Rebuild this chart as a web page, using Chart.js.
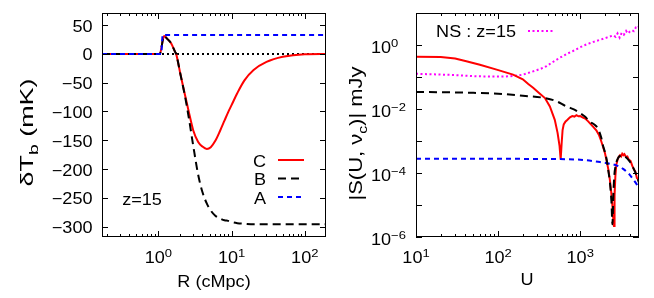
<!DOCTYPE html>
<html>
<head>
  <title>dTb profile and visibility</title>
  <script src="https://cdn.jsdelivr.net/npm/chart.js"></script>
  <style>
    body { margin: 0; background: #fff; }
    #wrap { position: relative; width: 654px; height: 298px; }
    #left { position: absolute; left: 0; top: 0; }
    #right { position: absolute; left: 330px; top: 0; }
  </style>
</head>
<body>
  <div id="wrap">
    <canvas id="left" width="330" height="298" style="width:330px;height:298px"></canvas>
    <canvas id="right" width="324" height="298" style="width:324px;height:298px"></canvas>
  </div>

  <script>
    // left panel: brightness temperature profile vs R (cMpc)
    const rGrid = [0.17, 0.5, 1.0, 1.05, 1.1, 1.15, 1.2, 1.3, 1.4, 1.5, 1.7, 1.75, 2.0, 2.3, 2.6, 3.0, 3.5, 4.0, 4.6, 5.2, 6.0, 7.0, 8.0, 9.0, 10, 12, 15, 20, 30, 50, 100, 195];
    const tbB   = [0, 0, 0, 0, 10, 24, 31, 27, 23, 18, 3, 0, -35, -72, -110, -160, -210, -240, -260, -272, -281, -286, -289, -290, -292, -294, -295, -296, -296, -296, -296, -296];
    const tbC   = [0, 0, 0, 0, 10, 24, 31, 27, 23, 18, 3, 0, -35, -70, -100, -133, -153, -161, -165, -162, -151, -133, -116, -101, -89, -68, -46, -28, -14, -5, -0.5, 0];
    const rA    = [0.17, 1.1, 1.14, 195];
    const tbA   = [0, 0, 33, 33];
    const rZero = [0.17, 195];
    const tbZero = [0, 0];
    const leftYTicks = [50, 0, -50, -100, -150, -200, -250, -300];

    // right panel: |S(U, nu_c)| in mJy vs U
    const uC = [10, 20, 30, 41, 60, 96, 152, 200, 233, 267, 310, 372, 427, 490, 530, 560, 578, 595, 610, 630, 660, 700, 750, 800, 850, 900, 950, 1000, 1080, 1150, 1250, 1350, 1450, 1580, 1700, 1800, 1900, 2000, 2100, 2200, 2300, 2400, 2480, 2540, 2580, 2620, 2680, 2750, 2850, 2950, 3050, 3150, 3250, 3350, 3450, 3600, 3750, 3900, 4100, 4300, 4500, 4700, 4900, 5200];
    const sC = [0.43, 0.42, 0.38, 0.31, 0.24, 0.17, 0.119, 0.085, 0.06, 0.046, 0.033, 0.022, 0.012, 0.0046, 0.0018, 7e-4, 2.6e-4, 9e-4, 0.0022, 0.0033, 0.0040, 0.0046, 0.0055, 0.0060, 0.0058, 0.0064, 0.0059, 0.0060, 0.0054, 0.0050, 0.0041, 0.0033, 0.0027, 0.0021, 0.0015, 0.0010, 6.5e-4, 4.2e-4, 2.4e-4, 1.3e-4, 6e-5, 2.2e-5, 8e-6, 3e-6, 2.2e-6, 2e-5, 8e-5, 1.8e-4, 2.6e-4, 3.2e-4, 3.6e-4, 3.3e-4, 4.0e-4, 3.6e-4, 3.9e-4, 3.2e-4, 3.3e-4, 2.6e-4, 2.4e-4, 1.7e-4, 1.3e-4, 1.1e-4, 7e-5, 6e-5];
    const uB = [10, 20, 50, 100, 200, 372, 500, 680, 850, 1000, 1150, 1310, 1500, 1650, 1800, 1900, 2000, 2100, 2190, 2300, 2400, 2470, 2530, 2600, 2700, 2850, 3000, 3300, 3600, 4000, 4400, 4800, 5200];
    const sB = [0.034, 0.0335, 0.032, 0.030, 0.026, 0.022, 0.018, 0.012, 0.0095, 0.0074, 0.0057, 0.0040, 0.0032, 0.0024, 0.0013, 7e-4, 4.5e-4, 2.6e-4, 1.3e-4, 5e-5, 1.3e-5, 2.5e-6, 2e-5, 8e-5, 1.7e-4, 2.7e-4, 3.3e-4, 3.5e-4, 3.1e-4, 2.3e-4, 1.5e-4, 9e-5, 5e-5];
    const uA = [10, 300, 1000, 1740, 2290, 2800, 3330, 3900, 4370, 5200];
    const sA = [2.8e-4, 2.75e-4, 2.6e-4, 2.2e-4, 1.95e-4, 1.7e-4, 1.35e-4, 9.5e-5, 6.6e-5, 3.5e-5];
    const uNS = [10, 30, 55, 100, 139, 200, 267, 330, 390, 470, 565, 680, 818, 1000, 1195, 1450, 1740, 2100, 2520, 2700, 2850, 3020, 3200, 3400, 3620, 3800, 4000, 4300, 4500, 4750, 5000, 5200];
    const sNS = [0.126, 0.115, 0.105, 0.103, 0.105, 0.118, 0.15, 0.18, 0.22, 0.30, 0.40, 0.52, 0.65, 0.85, 1.05, 1.25, 1.45, 1.7, 2.0, 1.8, 2.3, 1.7, 2.4, 2.1, 2.75, 2.3, 2.6, 2.9, 2.7, 3.5, 3.3, 3.9];
    const rightYLabels = [0, -2, -4, -6];

    const FONT = '"Liberation Sans", Arial, sans-serif';
    const SX = 1.13; // text in the reference is a bit wide

    const pts = (xs, ys) => xs.map((v, i) => ({ x: v, y: ys[i] }));

    // draw text made of parts: [str] normal, [str,'sup'], [str,'sub']
    function rich(ctx, parts, x, y, o) {
      o = o || {};
      const size = o.size || 16;
      ctx.save();
      ctx.translate(x, y);
      ctx.fillStyle = '#000';
      ctx.textBaseline = 'alphabetic';
      ctx.textAlign = 'left';
      const sizes = parts.map(p => p[1] ? size * 0.72 : size);
      let w = 0;
      parts.forEach((p, i) => { ctx.font = sizes[i] + 'px ' + FONT; w += ctx.measureText(p[0]).width; });
      if (o.rot) {
        ctx.rotate(-Math.PI / 2);
        ctx.scale(o.len ? o.len / w : 1, 1);
      } else {
        ctx.scale(SX, 1);
      }
      let cx = o.align === 'right' ? -w : o.align === 'left' ? 0 : -w / 2;
      parts.forEach((p, i) => {
        ctx.font = sizes[i] + 'px ' + FONT;
        const dy = p[1] === 'sup' ? -size * 0.4 : p[1] === 'sub' ? size * 0.25 : 0;
        ctx.fillText(p[0], cx, dy);
        cx += ctx.measureText(p[0]).width;
      });
      ctx.restore();
    }

    function logTicks(lo, hi) {
      const out = [];
      for (let e = -7; e <= 4; e++) {
        for (let m = 1; m <= 9; m++) {
          const v = m * Math.pow(10, e);
          if (v >= lo * 0.999 && v <= hi * 1.001) out.push([v, m === 1 ? 6 : 3]);
        }
      }
      return out;
    }

    // frame plus gnuplot style inward ticks on all four sides
    function frameTicks(chart, xt, yt) {
      const { ctx, chartArea: a, scales: { x, y } } = chart;
      ctx.save();
      ctx.strokeStyle = '#000';
      ctx.lineWidth = 1;
      ctx.beginPath();
      xt.forEach(([v, len]) => {
        const px = Math.round(x.getPixelForValue(v)) + 0.5;
        ctx.moveTo(px, a.bottom); ctx.lineTo(px, a.bottom - len);
        ctx.moveTo(px, a.top); ctx.lineTo(px, a.top + len);
      });
      yt.forEach(([v, len]) => {
        const py = Math.round(y.getPixelForValue(v)) + 0.5;
        ctx.moveTo(a.left, py); ctx.lineTo(a.left + len, py);
        ctx.moveTo(a.right, py); ctx.lineTo(a.right - len, py);
      });
      ctx.stroke();
      ctx.strokeRect(Math.round(a.left) + 0.5, Math.round(a.top) + 0.5, Math.round(a.right - a.left) - 1, Math.round(a.bottom - a.top) - 1);
      ctx.restore();
    }

    function legendLine(ctx, ds, x1, x2, y) {
      ctx.save();
      ctx.strokeStyle = ds.borderColor;
      ctx.lineWidth = ds.borderWidth;
      ctx.setLineDash(ds.borderDash || []);
      ctx.beginPath();
      ctx.moveTo(x1, y); ctx.lineTo(x2, y);
      ctx.stroke();
      ctx.restore();
    }

    const leftDeco = {
      id: 'leftDeco',
      afterDraw(chart) {
        const { ctx, scales: { x, y } } = chart;
        frameTicks(chart, logTicks(0.17, 195), leftYTicks.map(v => [v, 6]));
        leftYTicks.forEach(v => {
          const s = v < 0 ? '\u2212' + (-v) : String(v);
          rich(ctx, [[s]], 92.5, y.getPixelForValue(v) + 6.5, { align: 'right' });
        });
        [0, 1, 2].forEach(e => {
          rich(ctx, [['10'], [String(e), 'sup']], x.getPixelForValue(Math.pow(10, e)), 263);
        });
        rich(ctx, [['R (cMpc)']], 214, 287);
        rich(ctx, [['\u03b4T'], ['b', 'sub'], [' (mK)']], 33, 132.5, { rot: true, len: 108, size: 19 });
        rich(ctx, [['z=15']], 142, 205);
        const ds = chart.data.datasets;
        [['C', ds[2], 160], ['B', ds[1], 178.5], ['A', ds[0], 197]].forEach(([t, d, ly]) => {
          rich(ctx, [[t]], 266, ly + 6.5, { align: 'right' });
          legendLine(ctx, d, 278, 304, ly);
        });
      }
    };

    const rightDeco = {
      id: 'rightDeco',
      afterDraw(chart) {
        const { ctx, scales: { x, y } } = chart;
        const yt = [];
        for (let e = -6; e <= 1; e++) yt.push([Math.pow(10, e), 6]);
        frameTicks(chart, logTicks(10, 5200), yt);
        rightYLabels.forEach(e => {
          const s = e < 0 ? '\u2212' + (-e) : String(e);
          rich(ctx, [['10'], [s, 'sup']], 41, y.getPixelForValue(Math.pow(10, e)) + 8, { align: 'left' });
        });
        [1, 2, 3].forEach(e => {
          rich(ctx, [['10'], [String(e), 'sup']], x.getPixelForValue(Math.pow(10, e)), 263);
        });
        rich(ctx, [['U']], 197, 285);
        rich(ctx, [['|S(U, \u03bd'], ['c', 'sub'], [')| mJy']], 32, 133.5, { rot: true, len: 134, size: 19 });
        rich(ctx, [['NS : z=15']], 186, 36.5, { align: 'right' });
        legendLine(ctx, chart.data.datasets[3], 198, 223, 31);
      }
    };

    const base = {
      responsive: false,
      animation: false,
      events: [],
      plugins: { legend: { display: false }, tooltip: { enabled: false } },
      elements: { point: { radius: 0 } }
    };

    new Chart(document.getElementById('left'), {
      type: 'scatter',
      data: {
        datasets: [
          { label: 'A', data: pts(rA, tbA), showLine: true, borderColor: '#0000ff', borderWidth: 2, borderDash: [5, 4] },
          { label: 'B', data: pts(rGrid, tbB), showLine: true, borderColor: '#000000', borderWidth: 2, borderDash: [8, 5], cubicInterpolationMode: 'monotone' },
          { label: 'C', data: pts(rGrid, tbC), showLine: true, borderColor: '#ff0000', borderWidth: 2, cubicInterpolationMode: 'monotone' },
          { label: 'zero', data: pts(rZero, tbZero), showLine: true, borderColor: '#000000', borderWidth: 2, borderDash: [2, 3] }
        ]
      },
      options: Object.assign({}, base, {
        layout: { padding: { left: 102, right: 4, top: 13, bottom: 61 } },
        scales: {
          x: { type: 'logarithmic', min: 0.17, max: 195, display: false },
          y: { type: 'linear', min: -318, max: 71, display: false }
        }
      }),
      plugins: [leftDeco]
    });

    new Chart(document.getElementById('right'), {
      type: 'scatter',
      data: {
        datasets: [
          { label: 'B', data: pts(uB, sB), showLine: true, borderColor: '#000000', borderWidth: 2, borderDash: [8, 5], cubicInterpolationMode: 'monotone' },
          { label: 'A', data: pts(uA, sA), showLine: true, borderColor: '#0000ff', borderWidth: 2, borderDash: [5, 4], cubicInterpolationMode: 'monotone' },
          { label: 'C', data: pts(uC, sC), showLine: true, borderColor: '#ff0000', borderWidth: 2 },
          { label: 'NS : z=15', data: pts(uNS, sNS), showLine: true, borderColor: '#ff00ff', borderWidth: 2, borderDash: [2, 2.5] }
        ]
      },
      options: Object.assign({}, base, {
        layout: { padding: { left: 86, right: 15, top: 13, bottom: 61 } },
        scales: {
          x: { type: 'logarithmic', min: 10, max: 5200, display: false },
          y: { type: 'logarithmic', min: 1e-6, max: 10, display: false }
        }
      }),
      plugins: [rightDeco]
    });
  </script>
</body>
</html>
